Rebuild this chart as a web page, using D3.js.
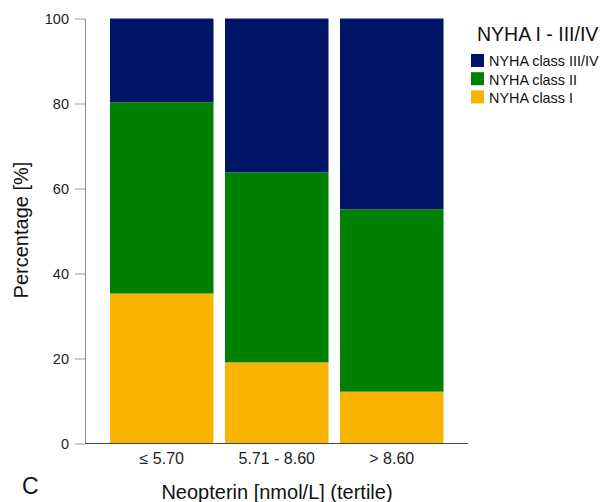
<!DOCTYPE html>
<html>
<head>
<meta charset="utf-8">
<script src="https://cdn.jsdelivr.net/npm/d3@7"></script>
<style>
  body { margin: 0; background: #fff; }
  text { font-family: "Liberation Sans", Arial, sans-serif; }
</style>
</head>
<body>
<div id="chart"></div>
<script>
// data
const categories = ["≤ 5.70", "5.71 - 8.60", "> 8.60"];
const classI = [35.3, 19.1, 12.2];
const classII = [45.0, 44.7, 42.9];
const classIIIIV = [19.7, 36.2, 44.9];
const seriesKeys = ["NYHA class I", "NYHA class II", "NYHA class III/IV"];
const legendOrder = ["NYHA class III/IV", "NYHA class II", "NYHA class I"];
const yTicks = [0, 20, 40, 60, 80, 100];

const width = 601, height = 502;

const svg = d3.select("#chart")
    .append("svg")
    .attr("width", width)
    .attr("height", height);

// table for d3.stack
const rows = categories.map((c, i) => ({
    cat: c,
    "NYHA class I": classI[i],
    "NYHA class II": classII[i],
    "NYHA class III/IV": classIIIIV[i]
}));

const color = d3.scaleOrdinal()
    .domain(seriesKeys)
    .range(["#f8b400", "#008000", "#001568"]);

const x = d3.scaleBand()
    .domain(categories)
    .range([110, 443.5])
    .paddingInner(0.1)
    .paddingOuter(0);

const y = d3.scaleLinear()
    .domain([0, 100])
    .range([443.5, 18.5]);

const stacked = d3.stack().keys(seriesKeys)(rows);

// bars
svg.append("g")
    .selectAll("g")
    .data(stacked)
    .enter()
    .append("g")
    .attr("fill", d => color(d.key))
    .selectAll("rect")
    .data(d => d)
    .enter()
    .append("rect")
    .attr("x", d => x(d.data.cat))
    .attr("y", d => y(d[1]))
    .attr("width", x.bandwidth())
    .attr("height", d => y(d[0]) - y(d[1]));

// y axis
const yAxis = svg.append("g")
    .attr("transform", "translate(85,0)")
    .call(d3.axisLeft(y).tickValues(yTicks).tickSize(10).tickSizeOuter(0).tickPadding(6));
yAxis.select(".domain").attr("stroke", "#888");
yAxis.selectAll(".tick line").attr("stroke", "#999");
yAxis.selectAll(".tick text")
    .style("font-size", "14.5px")
    .attr("fill", "#222");

// x axis
svg.append("line")
    .attr("x1", 85).attr("x2", 468)
    .attr("y1", y(0)).attr("y2", y(0))
    .attr("stroke", "#444");

const xAxis = svg.append("g")
    .attr("transform", `translate(0,${y(0)})`)
    .call(d3.axisBottom(x).tickSize(0).tickPadding(9));
xAxis.select(".domain").remove();
xAxis.selectAll(".tick text")
    .style("font-size", "16px")
    .attr("fill", "#222");

// axis titles
svg.append("text")
    .attr("transform", "translate(28,230) rotate(-90)")
    .attr("text-anchor", "middle")
    .style("font-size", "20px")
    .attr("fill", "#111")
    .text("Percentage [%]");

svg.append("text")
    .attr("x", 277)
    .attr("y", 499)
    .attr("text-anchor", "middle")
    .style("font-size", "20px")
    .attr("fill", "#111")
    .text("Neopterin [nmol/L] (tertile)");

svg.append("text")
    .attr("x", 22)
    .attr("y", 494)
    .style("font-size", "23px")
    .attr("fill", "#111")
    .text("C");

// legend
svg.append("text")
    .attr("x", 477)
    .attr("y", 40.5)
    .style("font-size", "19.5px")
    .attr("fill", "#111")
    .text("NYHA I - III/IV");

const legend = svg.append("g")
    .selectAll("g")
    .data(legendOrder)
    .enter()
    .append("g")
    .attr("transform", (d, i) => `translate(471,${54 + i * 18.2})`);

legend.append("rect")
    .attr("width", 13)
    .attr("height", 13)
    .attr("fill", d => color(d));

legend.append("text")
    .attr("x", 18)
    .attr("y", 12.3)
    .style("font-size", "14.4px")
    .attr("fill", "#111")
    .text(d => d);
</script>
</body>
</html>
